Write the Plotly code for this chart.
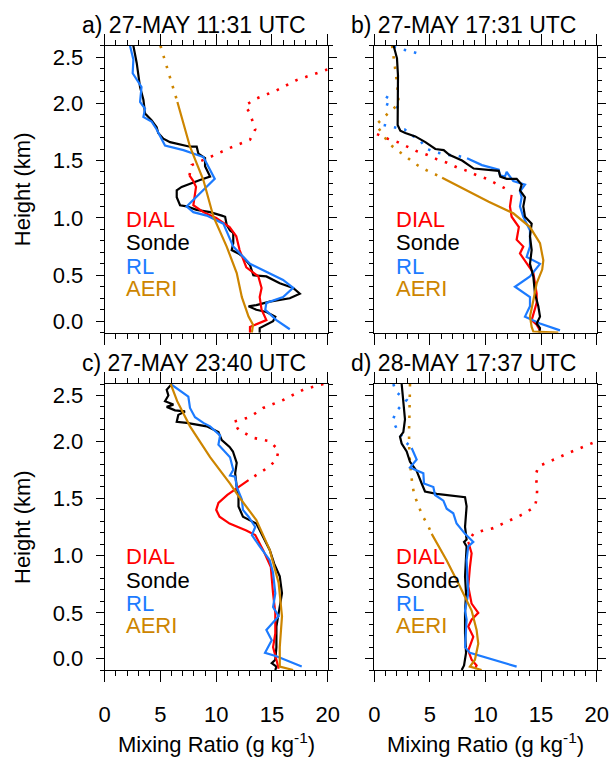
import plotly.graph_objects as go

# ---------------- DATA ----------------
x_tick_vals = [0, 5, 10, 15, 20]
x_tick_text = ["0", "5", "10", "15", "20"]
y_tick_vals = [0.1, 0.5, 1.0, 1.5, 2.0, 2.4]
y_tick_text = ["0.0", "0.5", "1.0", "1.5", "2.0", "2.5"]

panel_titles = ["a) 27-MAY 11:31 UTC", "b) 27-MAY 17:31 UTC",
                "c) 27-MAY 23:40 UTC", "d) 28-MAY 17:37 UTC"]
series_names = ["DIAL", "Sonde", "RL", "AERI"]

# ---- panel a ----
a_sonde_x = [2.57, 2.87, 3.17, 3.47, 3.62, 4.20, 4.66, 4.80, 5.26, 5.86, 7.65, 8.25, 8.40, 9.00, 9.00, 9.45, 8.55,
             6.90, 6.46, 6.46, 6.76, 7.35, 8.25, 9.45, 10.50, 10.80, 10.94, 11.24, 11.53, 11.53, 11.39, 11.99, 12.40,
             13.03, 13.33, 14.50, 15.70, 16.90, 17.50, 16.60, 14.80, 13.60, 12.90, 13.60, 14.50, 15.30, 15.10, 14.50,
             13.90, 13.90]
a_sonde_y = [2.50, 2.35, 2.14, 2.03, 1.91, 1.85, 1.79, 1.74, 1.69, 1.66, 1.62, 1.62, 1.56, 1.52, 1.45, 1.36, 1.33,
             1.27, 1.24, 1.18, 1.11, 1.10, 1.07, 1.05, 1.02, 1.01, 0.94, 0.89, 0.87, 0.78, 0.72, 0.69, 0.66,
             0.59, 0.50, 0.49, 0.43, 0.39, 0.34, 0.30, 0.27, 0.24, 0.23, 0.20, 0.18, 0.14, 0.10, 0.07,
             0.04, 0.00]
a_rl_x = [2.27, 2.57, 2.51, 2.87, 3.30, 3.17, 3.62, 3.47, 4.20, 4.66, 5.41, 7.06, 8.85, 9.87, 7.35, 7.95, 9.15,
          10.64, 11.53, 13.03, 14.80, 16.00, 16.90, 16.00, 14.50, 14.40, 15.40, 16.60]
a_rl_y = [2.50, 2.38, 2.26, 2.20, 2.14, 2.01, 1.95, 1.88, 1.84, 1.77, 1.63, 1.59, 1.53, 1.34, 1.10, 1.05, 1.02,
          0.95, 0.75, 0.60, 0.52, 0.46, 0.39, 0.31, 0.26, 0.20, 0.11, 0.03]
a_dial_x = [7.60, 7.95, 8.19, 7.95, 8.85, 10.00, 11.20, 11.80, 12.10, 12.70, 13.78, 14.07, 13.90, 14.07, 14.50,
            13.03, 13.03]
a_dial_y = [1.37, 1.32, 1.27, 1.11, 1.05, 1.00, 0.92, 0.84, 0.72, 0.57, 0.49, 0.39, 0.31, 0.20, 0.11,
            0.05, 0.00]
a_dial_dot_x = [7.60, 7.80, 9.45, 11.24, 13.03, 13.50, 13.03, 12.60, 13.60, 15.40, 17.20, 19.90, 20.50]
a_dial_dot_y = [1.37, 1.46, 1.53, 1.61, 1.68, 1.77, 1.91, 1.98, 2.04, 2.11, 2.20, 2.29, 2.31]
a_aeri_x = [6.52, 7.65, 8.85, 9.75, 10.94, 11.84, 12.30, 12.90, 13.30, 13.20]
a_aeri_y = [2.01, 1.62, 1.33, 1.01, 0.75, 0.52, 0.31, 0.14, 0.07, 0.00]
a_aeri_dot_x = [5.00, 5.75, 6.52]
a_aeri_dot_y = [2.50, 2.26, 2.01]

# ---- panel b ----
b_sonde_x = [1.74, 2.04, 2.13, 2.13, 2.10, 2.34, 2.79, 3.69, 4.59, 5.49, 6.24, 6.74, 7.89, 8.94, 9.98, 11.19,
             11.33, 11.90, 12.80, 13.25, 13.10, 13.55, 13.40, 13.55, 14.15, 14.00, 14.15, 14.00, 14.30, 14.45,
             14.75, 14.90, 14.60, 14.90, 14.85]
b_sonde_y = [2.50, 2.39, 2.24, 1.95, 1.81, 1.76, 1.74, 1.71, 1.66, 1.60, 1.59, 1.55, 1.50, 1.43, 1.42, 1.41,
             1.36, 1.34, 1.34, 1.29, 1.24, 1.18, 1.10, 1.01, 0.95, 0.84, 0.72, 0.60, 0.49, 0.34,
             0.23, 0.14, 0.08, 0.04, 0.00]
b_rl_x = [8.34, 9.68, 11.19, 11.30, 11.75, 11.90, 12.50, 13.55, 13.10, 13.25, 13.10, 13.40, 14.00, 14.00, 13.70,
          14.90, 14.00, 12.65, 14.00, 14.00, 13.55, 14.90, 16.70]
b_rl_y = [1.52, 1.46, 1.42, 1.37, 1.36, 1.40, 1.32, 1.29, 1.23, 1.18, 1.10, 1.01, 0.89, 0.75, 0.66,
          0.60, 0.49, 0.40, 0.31, 0.23, 0.14, 0.08, 0.02]
b_rl_dot_x = [1.74, 2.40, 3.33, 4.29, None, 1.20, 0.84, 1.74, 2.70, None, 0.84, 1.80, 2.73, 3.39, 4.14, 4.74,
              5.64, 6.54, 7.53, 8.34]
b_rl_dot_y = [2.49, 2.47, 2.45, 2.42, None, 2.06, 2.00, 1.97, 1.95, None, 1.81, 1.79, 1.77, 1.72, 1.67, 1.60,
              1.57, 1.55, 1.54, 1.52]
b_dial_x = [12.35, 12.20, 12.35, 13.00, 12.80, 13.40, 13.10, 13.70, 14.30, 14.45, 14.60, 14.60, 14.30, 14.15,
            14.60, 14.90]
b_dial_y = [1.20, 1.10, 1.01, 0.92, 0.81, 0.75, 0.69, 0.60, 0.52, 0.43, 0.34, 0.26, 0.17, 0.11,
            0.07, 0.02]
b_dial_dot_x = [0.24, 1.20, 2.10, 3.00, 3.84, 4.74, 5.64, 6.54, 7.44, 8.34, 9.24, 10.14, 10.97, 11.90]
b_dial_dot_y = [1.73, 1.69, 1.66, 1.62, 1.58, 1.55, 1.51, 1.48, 1.44, 1.41, 1.37, 1.34, 1.30, 1.25]
b_aeri_x = [6.10, 8.30, 10.29, 12.50, 14.00, 14.90, 15.20, 15.10, 14.60, 14.30, 14.00, 14.15, 14.30, 16.55]
b_aeri_y = [1.35, 1.24, 1.14, 1.04, 0.92, 0.78, 0.63, 0.55, 0.43, 0.28, 0.14, 0.05, 0.01, 0.00]
b_aeri_dot_x = [1.60, 1.80, 1.89, 2.04, 2.13, 2.19, 1.44, 0.76, 0.15, 0.76, 1.29, 2.04, 2.79, 3.54, 4.38, 5.25, 6.10]
b_aeri_dot_y = [2.50, 2.36, 2.27, 2.18, 2.08, 1.99, 1.93, 1.87, 1.81, 1.73, 1.65, 1.59, 1.54, 1.48, 1.43, 1.39, 1.35]

# ---- panel c ----
c_sonde_x = [5.92, 5.56, 5.71, 5.41, 6.16, 5.56, 6.31, 7.20, 6.60, 6.46, 7.35, 9.15, 10.20, 10.50, 11.20, 11.50,
             11.84, 11.70, 11.84, 12.00, 12.00, 12.40, 13.60, 14.20, 14.80, 15.20, 15.70, 15.90, 15.60, 15.40,
             15.40, 15.30, 14.98, 15.40, 15.30]
c_sonde_y = [2.49, 2.45, 2.40, 2.35, 2.32, 2.30, 2.27, 2.26, 2.23, 2.17, 2.16, 2.13, 2.08, 2.01, 1.95, 1.91,
             1.81, 1.72, 1.60, 1.52, 1.43, 1.34, 1.28, 1.17, 1.05, 0.93, 0.82, 0.67, 0.50, 0.38,
             0.20, 0.09, 0.06, 0.03, 0.00]
c_rl_x = [5.92, 7.06, 7.50, 7.65, 8.10, 8.85, 9.45, 10.35, 10.20, 11.24, 11.53, 11.24, 11.70, 11.84, 12.30, 12.40,
          12.90, 13.50, 13.20, 13.90, 14.80, 15.10, 15.30, 15.10, 15.60, 14.50, 14.98, 14.38, 15.40, 17.67]
c_rl_y = [2.50, 2.42, 2.39, 2.29, 2.21, 2.16, 2.13, 2.05, 1.97, 1.86, 1.75, 1.70, 1.69, 1.60, 1.49, 1.40,
          1.34, 1.25, 1.18, 1.08, 0.96, 0.85, 0.67, 0.55, 0.47, 0.35, 0.26, 0.15, 0.12, 0.03]
c_dial_x = [12.90, 12.00, 11.00, 10.20, 10.00, 10.30, 11.20, 12.70, 13.50, 14.20, 14.90, 15.10, 15.30, 15.30,
            15.10, 15.40, 15.60]
c_dial_y = [1.66, 1.60, 1.53, 1.46, 1.40, 1.34, 1.28, 1.22, 1.18, 1.05, 0.90, 0.67, 0.50, 0.32,
            0.20, 0.09, 0.01]
c_dial_dot_x = [20.50, 19.60, 17.80, 16.00, 14.20, 13.00, 11.54, 12.00, 13.30, 14.80, 15.60, 15.40, 14.80, 13.90,
                12.90]
c_dial_dot_y = [2.53, 2.50, 2.45, 2.36, 2.29, 2.21, 2.17, 2.10, 2.03, 2.00, 1.92, 1.84, 1.78, 1.72, 1.66]
c_aeri_x = [5.92, 6.50, 7.65, 9.45, 11.24, 12.00, 13.60, 14.80, 15.60, 15.90, 15.70, 15.70, 16.90]
c_aeri_y = [2.50, 2.35, 2.13, 1.86, 1.63, 1.52, 1.31, 1.05, 0.76, 0.47, 0.20, 0.03, 0.00]

# ---- panel d ----
d_sonde_x = [2.46, 2.61, 2.76, 2.61, 2.31, 2.46, 2.91, 3.21, 3.81, 4.26, 4.56, 5.61, 7.71, 8.16, 8.30, 8.16, 8.30,
             8.07, 8.30, 8.25, 8.16, 8.25, 8.16, 8.16, 8.25, 8.07, 7.86]
d_sonde_y = [2.50, 2.36, 2.19, 2.08, 2.04, 1.98, 1.91, 1.82, 1.74, 1.63, 1.56, 1.54, 1.52, 1.51, 1.43, 1.25, 1.14,
             1.12, 1.08, 0.96, 0.82, 0.67, 0.50, 0.32, 0.15, 0.04, 0.00]
d_rl_x = [3.36, 3.81, 3.21, 4.41, 4.47, 5.31, 5.46, 6.21, 6.51, 7.10, 7.40, 8.16, 8.90, 8.45, 8.30, 8.45, 8.16,
          8.30, 8.16, 8.60, 12.80]
d_rl_y = [1.94, 1.84, 1.77, 1.72, 1.63, 1.60, 1.53, 1.48, 1.41, 1.37, 1.28, 1.19, 1.12, 1.08, 0.96, 0.67, 0.52,
          0.44, 0.20, 0.15, 0.03]
d_rl_dot_x = [1.71, 1.95, 2.90, 1.95, 1.65, 2.07, 2.85, 3.36]
d_rl_dot_y = [2.50, 2.43, 2.36, 2.26, 2.18, 2.10, 1.99, 1.94]
d_dial_x = [8.45, 8.75, 8.60, 8.45, 8.75, 9.35, 8.75, 8.45, 8.90, 8.45, 8.75, 9.20, 9.05]
d_dial_y = [1.12, 1.02, 0.90, 0.73, 0.58, 0.50, 0.44, 0.38, 0.29, 0.17, 0.09, 0.04, 0.01]
d_dial_dot_x = [20.50, 20.00, 19.10, 18.20, 17.30, 16.40, 15.50, 14.75, 14.50, 14.66, 14.60, 14.45, 13.55, 12.50,
                11.60, 10.70, 9.80, 8.90, 8.45]
d_dial_dot_y = [2.02, 2.00, 1.96, 1.93, 1.89, 1.85, 1.81, 1.78, 1.70, 1.60, 1.50, 1.43, 1.37, 1.32,
                1.28, 1.24, 1.22, 1.19, 1.12]
d_aeri_x = [5.16, 6.50, 7.70, 8.75, 9.20, 9.35, 9.05, 8.60, 9.65]
d_aeri_y = [1.19, 0.96, 0.73, 0.52, 0.35, 0.23, 0.09, 0.03, 0.00]
d_aeri_dot_x = [3.21, 3.21, 3.21, 3.15, 3.12, 3.12, 3.15, 3.21, 3.30, 3.42, 3.60, 3.96, 4.32, 4.80, 5.16]
d_aeri_dot_y = [2.50, 2.37, 2.27, 2.18, 2.08, 1.99, 1.90, 1.81, 1.71, 1.62, 1.53, 1.44, 1.35, 1.27, 1.19]

# ---------------- STYLE ----------------
W, H = 612, 762
FONT = "Liberation Sans, Arial, Helvetica, sans-serif"
C_DIAL, C_SONDE, C_RL, C_AERI = "#FF0000", "#000000", "#1C7BFF", "#CD8500"
LW = 2.2
DOT = "2.5px,8px"


def px(v):
    return v / W


def py(v):
    return 1 - v / H


# panel frames in pixels: (left, right, top, bottom)
frames = [(104.7, 327.7, 45.7, 332.7), (374.3, 596.7, 45.7, 332.7),
          (104.7, 327.7, 384.0, 670.0), (374.3, 596.7, 384.0, 670.0)]

fig = go.Figure()

panels = [
    dict(solid=[(a_sonde_x, a_sonde_y, C_SONDE), (a_dial_x, a_dial_y, C_DIAL), (a_rl_x, a_rl_y, C_RL),
                (a_aeri_x, a_aeri_y, C_AERI)],
         dotted=[(a_dial_dot_x, a_dial_dot_y, C_DIAL), (a_aeri_dot_x, a_aeri_dot_y, C_AERI)]),
    dict(solid=[(b_dial_x, b_dial_y, C_DIAL), (b_rl_x, b_rl_y, C_RL), (b_sonde_x, b_sonde_y, C_SONDE),
                (b_aeri_x, b_aeri_y, C_AERI)],
         dotted=[(b_dial_dot_x, b_dial_dot_y, C_DIAL), (b_rl_dot_x, b_rl_dot_y, C_RL),
                 (b_aeri_dot_x, b_aeri_dot_y, C_AERI)]),
    dict(solid=[(c_sonde_x, c_sonde_y, C_SONDE), (c_dial_x, c_dial_y, C_DIAL), (c_rl_x, c_rl_y, C_RL),
                (c_aeri_x, c_aeri_y, C_AERI)],
         dotted=[(c_dial_dot_x, c_dial_dot_y, C_DIAL)]),
    dict(solid=[(d_sonde_x, d_sonde_y, C_SONDE), (d_dial_x, d_dial_y, C_DIAL), (d_rl_x, d_rl_y, C_RL),
                (d_aeri_x, d_aeri_y, C_AERI)],
         dotted=[(d_dial_dot_x, d_dial_dot_y, C_DIAL), (d_rl_dot_x, d_rl_dot_y, C_RL),
                 (d_aeri_dot_x, d_aeri_dot_y, C_AERI)]),
]

for i, p in enumerate(panels):
    sfx = "" if i == 0 else str(i + 1)
    for xs, ys, col in p["dotted"]:
        fig.add_trace(go.Scatter(x=xs, y=ys, mode="lines", xaxis="x" + sfx, yaxis="y" + sfx,
                                 line=dict(color=col, width=2.6, dash=DOT), connectgaps=False,
                                 showlegend=False, hoverinfo="skip"))
    for xs, ys, col in p["solid"]:
        fig.add_trace(go.Scatter(x=xs, y=ys, mode="lines", xaxis="x" + sfx, yaxis="y" + sfx,
                                 line=dict(color=col, width=LW), showlegend=False, hoverinfo="skip"))

layout = dict(width=W, height=H, margin=dict(l=0, r=0, t=0, b=0, autoexpand=False), paper_bgcolor="white",
              plot_bgcolor="white", font=dict(family=FONT, color="black"), showlegend=False,
              template="none")

annotations = []
for i, (l, r, t, b) in enumerate(frames):
    sfx = "" if i == 0 else str(i + 1)
    show_x = i >= 2
    show_y = i in (0, 2)
    layout["xaxis" + sfx] = dict(
        domain=[px(l), px(r)], range=[0, 20], anchor="y" + sfx, showline=True, linecolor="black",
        linewidth=1, mirror="ticks", ticks="outside", ticklen=11, tickwidth=1, tickcolor="black",
        tickmode="array", tickvals=x_tick_vals, ticktext=x_tick_text, showticklabels=show_x,
        tickfont=dict(size=22, family=FONT, color="black"), ticklabelstandoff=14, automargin=False,
        minor=dict(dtick=1, tick0=0, ticks="outside", ticklen=5, tickwidth=1, tickcolor="black",
                   showgrid=False),
        showgrid=False, zeroline=False, fixedrange=True)
    layout["yaxis" + sfx] = dict(
        domain=[py(b), py(t)], range=[0, 2.5], anchor="x" + sfx, showline=True, linecolor="black",
        linewidth=1, mirror="ticks", ticks="outside", ticklen=8, tickwidth=1, tickcolor="black",
        tickmode="array", tickvals=y_tick_vals, ticktext=y_tick_text, showticklabels=show_y,
        tickfont=dict(size=22, family=FONT, color="black"), ticklabelstandoff=8, automargin=False,
        minor=dict(dtick=0.1, tick0=0, ticks="outside", ticklen=4, tickwidth=1, tickcolor="black",
                   showgrid=False),
        showgrid=False, zeroline=False, fixedrange=True)

    # panel title
    cx = (l + r) / 2 - 22
    annotations.append(dict(text=panel_titles[i], x=px(cx), y=py(t - 21), xref="paper", yref="paper",
                            xanchor="center", yanchor="middle", showarrow=False,
                            font=dict(size=23, family=FONT, color="black")))
    # in-panel legend labels
    for name, col, yy in zip(series_names, [C_DIAL, C_SONDE, C_RL, C_AERI], [0.99, 0.785, 0.58, 0.385]):
        annotations.append(dict(text=name, x=1.75, y=yy, xref="x" + sfx, yref="y" + sfx, xanchor="left",
                                yanchor="middle", showarrow=False,
                                font=dict(size=22, family=FONT, color=col)))
    if show_x:
        annotations.append(dict(text="Mixing Ratio (g kg<sup>-1</sup>)", x=px((l + r) / 2), y=py(743),
                                xref="paper", yref="paper", xanchor="center", yanchor="middle",
                                showarrow=False, font=dict(size=22, family=FONT, color="black")))
    if show_y:
        annotations.append(dict(text="Height (km)", x=px(22), y=py((t + b) / 2), xref="paper", yref="paper",
                                xanchor="center", yanchor="middle", textangle=-90, showarrow=False,
                                font=dict(size=22, family=FONT, color="black")))

layout["annotations"] = annotations
fig.update_layout(**layout)
fig.write_html("out.html", config={"displayModeBar": False, "staticPlot": True},
               post_script="document.body.style.margin='0px';document.body.style.padding='0px';")
